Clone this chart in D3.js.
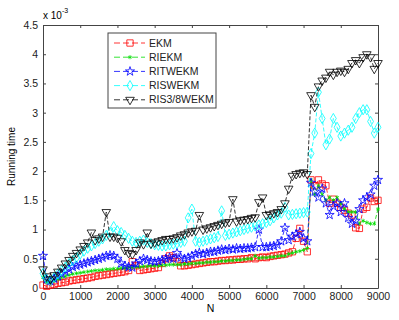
<!DOCTYPE html>
<html>
<head>
<meta charset="utf-8">
<script src="https://cdn.jsdelivr.net/npm/d3@7"></script>
<style>
  body { margin: 0; background: #fff; }
  text { font-family: "Liberation Sans", Arial, sans-serif; }
</style>
</head>
<body>
<svg width="399" height="320"></svg>
<script>
// N runs 0..9000 in steps of 100, values in units of 1e-3 s
var N = d3.range(0, 9001, 100)

var ekm = [0.05, 0.03, 0.05, 0.06, 0.08, 0.09, 0.10, 0.12, 0.13, 0.14,
  0.15, 0.16, 0.17, 0.18, 0.20, 0.21, 0.22, 0.23, 0.24, 0.25,
  0.26, 0.27, 0.28, 0.30, 0.45, 0.38, 0.30, 0.31, 0.32, 0.33,
  0.34, 0.35, 0.42, 0.50, 0.55, 0.52, 0.45, 0.38, 0.38, 0.39,
  0.40, 0.41, 0.42, 0.43, 0.44, 0.45, 0.45, 0.46, 0.47, 0.47,
  0.48, 0.48, 0.49, 0.49, 0.50, 0.50, 0.52, 0.50, 0.52, 0.53,
  0.52, 0.54, 0.55, 0.56, 0.57, 0.58, 0.60, 0.62, 0.85, 1.02,
  0.80, 0.62, 1.85, 1.75, 1.85, 1.78, 1.75, 1.45, 1.52, 1.45,
  1.38, 1.33, 1.28, 1.25, 1.03, 1.02, 1.35, 1.38, 1.54, 1.48,
  1.50]

var riekm = [0.18, 0.10, 0.10, 0.12, 0.15, 0.18, 0.20, 0.22, 0.24, 0.25,
  0.26, 0.27, 0.28, 0.29, 0.30, 0.30, 0.31, 0.32, 0.32, 0.33,
  0.33, 0.34, 0.34, 0.35, 0.35, 0.36, 0.36, 0.37, 0.37, 0.38,
  0.38, 0.38, 0.39, 0.39, 0.40, 0.40, 0.40, 0.40, 0.41, 0.41,
  0.42, 0.42, 0.43, 0.43, 0.44, 0.44, 0.45, 0.45, 0.46, 0.46,
  0.47, 0.47, 0.48, 0.48, 0.49, 0.50, 0.50, 0.55, 0.51, 0.52,
  0.52, 0.53, 0.53, 0.54, 0.55, 0.55, 0.58, 0.60, 0.62, 0.63,
  0.65, 0.68, 1.85, 1.60, 1.75, 1.60, 1.50, 1.55, 1.50, 1.55,
  1.45, 1.35, 1.30, 1.30, 1.30, 1.10, 1.15, 1.12, 1.10, 1.10,
  1.35]

var ritwekm = [0.55, 0.15, 0.12, 0.16, 0.20, 0.24, 0.28, 0.32, 0.36, 0.38,
  0.40, 0.42, 0.44, 0.46, 0.48, 0.50, 0.52, 0.55, 0.56, 0.55,
  0.50, 0.42, 0.38, 0.36, 0.35, 0.42, 0.46, 0.50, 0.48, 0.46,
  0.45, 0.46, 0.48, 0.50, 0.52, 0.50, 0.60, 0.52, 0.50, 0.52,
  0.55, 0.58, 0.60, 0.58, 0.60, 0.62, 0.62, 0.64, 0.66, 0.65,
  0.67, 0.66, 0.68, 0.67, 0.68, 0.68, 0.69, 0.70, 1.00, 0.70,
  0.70, 0.71, 0.72, 0.74, 0.80, 1.03, 0.82, 0.88, 0.92, 0.96,
  0.85, 0.80, 1.80, 1.65, 1.55, 1.70, 1.45, 1.25, 1.40, 1.45,
  1.30, 1.45, 1.20, 1.10, 1.15, 1.35, 1.50, 1.55, 1.60, 1.75,
  1.85]

var riswekm = [0.25, 0.15, 0.12, 0.18, 0.24, 0.30, 0.36, 0.42, 0.47, 0.52,
  0.58, 0.63, 0.68, 0.72, 0.76, 0.80, 0.84, 0.90, 0.95, 1.05,
  0.98, 0.95, 0.90, 0.85, 0.80, 0.78, 0.80, 0.82, 0.78, 0.76,
  0.74, 0.73, 0.72, 0.72, 0.74, 0.75, 0.76, 0.78, 0.80, 1.20,
  1.35, 0.80, 0.78, 0.80, 0.82, 0.84, 0.86, 0.88, 1.32, 0.90,
  0.92, 0.94, 0.96, 0.98, 1.00, 1.02, 1.04, 1.06, 1.08, 1.10,
  1.12, 1.15, 1.20, 1.25, 1.28, 1.38, 1.25, 1.26, 1.27, 1.28,
  1.29, 1.30, 2.30, 2.65, 3.35, 2.90, 2.45, 2.55, 2.90, 2.75,
  2.60, 2.65, 2.70, 2.75, 2.90, 3.00, 3.05, 3.05, 2.85, 2.65,
  2.75]

var ris38wekm = [0.32, 0.20, 0.15, 0.22, 0.28, 0.35, 0.42, 0.48, 0.55, 0.60,
  0.66, 0.72, 0.78, 0.95, 0.82, 0.85, 0.88, 1.30, 0.88, 0.88,
  0.86, 0.80, 0.65, 0.60, 0.58, 0.65, 0.78, 0.75, 0.95, 0.76,
  0.78, 0.80, 0.82, 0.84, 0.84, 0.85, 0.87, 0.90, 0.92, 0.95,
  0.97, 0.98, 1.25, 1.00, 1.02, 1.04, 1.06, 1.08, 1.10, 1.12,
  1.13, 1.52, 1.14, 1.16, 1.17, 1.18, 1.20, 1.21, 1.47, 1.55,
  1.25, 1.26, 1.28, 1.30, 1.35, 1.45, 1.70, 1.92, 1.95, 1.97,
  1.98, 1.95, 3.30, 3.10, 3.45, 3.55, 3.60, 3.70, 3.65, 3.70,
  3.72, 3.70, 3.75, 3.85, 3.90, 3.85, 3.95, 4.00, 3.95, 3.75,
  3.85]

var series = [
  { name: 'EKM', values: ekm, color: '#ff0000', symbol: d3.symbolSquare, size: 40, rot: 0 },
  { name: 'RIEKM', values: riekm, color: '#00dd00', symbol: d3.symbolAsterisk, size: 12, rot: 0 },
  { name: 'RITWEKM', values: ritwekm, color: '#0000ff', symbol: d3.symbolStar, size: 26, rot: 0 },
  { name: 'RISWEKM', values: riswekm, color: '#00ffff', symbol: d3.symbolDiamond, size: 30, rot: 0 },
  { name: 'RIS3/8WEKM', values: ris38wekm, color: '#000000', symbol: d3.symbolTriangle, size: 32, rot: 180 }
]

var xTicks = d3.range(0, 9001, 1000)
var yTicks = d3.range(0, 4.51, 0.5)

var svg = d3.select('svg')
var margin = { top: 25, right: 21, bottom: 32, left: 43 }
var width = Number(svg.attr('width')) - margin.left - margin.right
var height = Number(svg.attr('height')) - margin.top - margin.bottom
var g = svg.append('g')
  .attr('transform', 'translate(' + margin.left + ',' + margin.top + ')')

var x = d3.scaleLinear().domain([0, 9000]).range([0, width])
var y = d3.scaleLinear().domain([0, 4.5]).range([height, 0])

var axisColor = '#444'

// axes with inward ticks on all four sides (matlab box)
var axB = g.append('g')
  .attr('transform', 'translate(0,' + height + ')')
  .call(d3.axisBottom(x).tickValues(xTicks).tickSizeInner(-3).tickSizeOuter(0).tickPadding(5)
    .tickFormat(d3.format('d')))
var axL = g.append('g')
  .call(d3.axisLeft(y).tickValues(yTicks).tickSizeInner(-3).tickSizeOuter(0).tickPadding(5)
    .tickFormat(function (d) { return String(d) }))
var axT = g.append('g')
  .call(d3.axisTop(x).tickValues(xTicks).tickSizeInner(-3).tickSizeOuter(0).tickFormat(''))
var axR = g.append('g')
  .attr('transform', 'translate(' + width + ',0)')
  .call(d3.axisRight(y).tickValues(yTicks).tickSizeInner(-3).tickSizeOuter(0).tickFormat(''))

;[axB, axL, axT, axR].forEach(function (a) {
  a.selectAll('.domain').attr('stroke', axisColor)
  a.selectAll('line').attr('stroke', axisColor)
  a.selectAll('text').attr('fill', '#222').style('font-size', '10.5px')
})

var line = d3.line()
  .x(function (d, i) { return x(N[i]) })
  .y(function (d) { return y(d) })

series.forEach(function (s) {
  var sg = g.append('g')
  sg.append('path')
    .datum(s.values)
    .attr('fill', 'none')
    .attr('stroke', s.color)
    .attr('stroke-width', 0.8)
    .attr('stroke-dasharray', '4,2')
    .attr('d', line)
  sg.selectAll('path.m')
    .data(s.values)
    .enter().append('path')
    .attr('class', 'm')
    .attr('d', d3.symbol().type(s.symbol).size(s.size))
    .attr('transform', function (d, i) {
      return 'translate(' + x(N[i]) + ',' + y(d) + ') rotate(' + s.rot + ')'
    })
    .attr('fill', 'none')
    .attr('stroke', s.color)
    .attr('stroke-width', 0.8)
})

// labels
svg.append('text')
  .attr('x', margin.left + width / 2)
  .attr('y', 312)
  .attr('text-anchor', 'middle')
  .style('font-size', '10.5px')
  .text('N')

svg.append('text')
  .attr('transform', 'translate(15,' + (margin.top + height / 2) + ') rotate(-90)')
  .attr('text-anchor', 'middle')
  .style('font-size', '10px')
  .text('Running time')

var ex = svg.append('text')
  .attr('x', margin.left)
  .attr('y', 19)
  .style('font-size', '10px')
ex.append('tspan').text('x 10')
ex.append('tspan').attr('dy', -6).style('font-size', '7px').text('-3')

// legend
var lg = svg.append('g').attr('transform', 'translate(108,33)')
lg.append('rect')
  .attr('width', 108)
  .attr('height', 75)
  .attr('fill', '#fff')
  .attr('stroke', axisColor)
  .attr('stroke-width', 1)

series.forEach(function (s, i) {
  var ly = 10 + i * 14.2
  lg.append('line')
    .attr('x1', 6).attr('x2', 37)
    .attr('y1', ly).attr('y2', ly)
    .attr('stroke', s.color)
    .attr('stroke-width', 0.8)
    .attr('stroke-dasharray', '6,3')
  lg.append('path')
    .attr('d', d3.symbol().type(s.symbol).size(s.size)())
    .attr('transform', 'translate(22,' + ly + ') rotate(' + s.rot + ')')
    .attr('fill', 'none')
    .attr('stroke', s.color)
    .attr('stroke-width', 0.8)
  lg.append('text')
    .attr('x', 41)
    .attr('y', ly + 3.5)
    .style('font-size', '10.5px')
    .attr('fill', '#222')
    .text(s.name)
})
</script>
</body>
</html>
